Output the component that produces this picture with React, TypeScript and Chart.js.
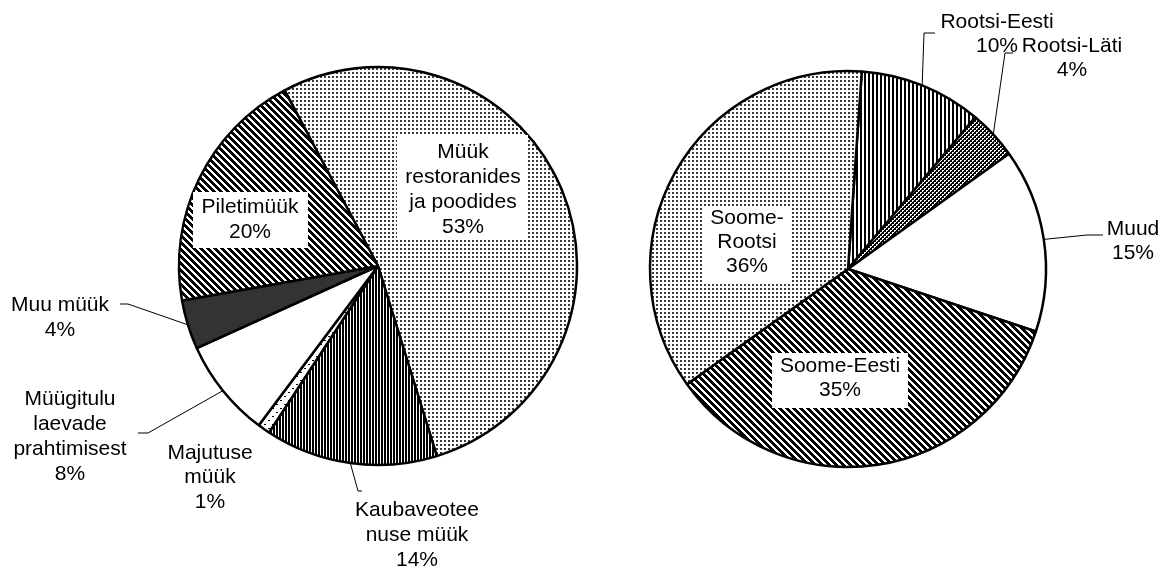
import React, { useEffect, useRef } from "react";
import { Chart, registerables } from "chart.js";

Chart.register(...registerables);

// ---------- data ----------
const leftCategories: string[][] = [
  ["Müük", "restoranides", "ja poodides"],
  ["Kaubaveotee", "nuse müük"],
  ["Majutuse", "müük"],
  ["Müügitulu", "laevade", "prahtimisest"],
  ["Muu müük"],
  ["Piletimüük"],
];
const leftValues = [53, 14, 1, 8, 4, 20];

const rightCategories: string[][] = [
  ["Rootsi-Eesti"],
  ["Rootsi-Läti"],
  ["Muud"],
  ["Soome-Eesti"],
  ["Soome-", "Rootsi"],
];
const rightValues = [10, 4, 15, 35, 36];

// ---------- layout (page coordinates) ----------
type LabelLayout = {
  x: number;
  y: number;
  lh: number;
  box?: [number, number, number, number];
  leader?: [number, number][];
};

const leftLayout: LabelLayout[] = [
  { x: 463, y: 152, lh: 25, box: [397, 135, 528, 240] },
  { x: 417, y: 510, lh: 25, leader: [[362, 491], [358, 491]] },
  { x: 210, y: 453, lh: 24.5 },
  { x: 70, y: 399, lh: 25, leader: [[138, 433], [148, 433]] },
  { x: 60, y: 305, lh: 25.5, leader: [[120, 304], [128, 304]] },
  { x: 250, y: 207.5, lh: 25, box: [193, 192, 308, 248] },
];

const rightLayout: LabelLayout[] = [
  { x: 997, y: 22, lh: 24, leader: [[935, 33], [924, 33]] },
  { x: 1072, y: 46.5, lh: 24, leader: [[1013, 53], [1005, 53]] },
  { x: 1133, y: 229, lh: 24, leader: [[1103, 235], [1087, 235]] },
  { x: 840, y: 366, lh: 24, box: [772, 353, 908, 408] },
  { x: 747, y: 218, lh: 24, box: [702, 207, 792, 282] },
];

const FONT = '21px "Liberation Sans", Arial, Helvetica, sans-serif';

// ---------- patterns ----------
function tile(w: number, h: number, draw: (g: CanvasRenderingContext2D) => void) {
  const c = document.createElement("canvas");
  c.width = w;
  c.height = h;
  const g = c.getContext("2d")!;
  g.fillStyle = "#fff";
  g.fillRect(0, 0, w, h);
  draw(g);
  return c;
}

function makePatterns(ctx: CanvasRenderingContext2D) {
  const p = (c: HTMLCanvasElement) => ctx.createPattern(c, "repeat")!;
  const dots = p(
    tile(4, 4, (g) => {
      g.fillStyle = "#3a3a3a";
      g.fillRect(0, 0, 2, 2);
    })
  );
  const vDense = p(
    tile(3, 1, (g) => {
      g.fillStyle = "#000";
      g.fillRect(0, 0, 2, 1);
    })
  );
  const vLight = p(
    tile(4, 1, (g) => {
      g.fillStyle = "#000";
      g.fillRect(0, 0, 2, 1);
    })
  );
  const diag = p(
    tile(7, 7, (g) => {
      g.fillStyle = "#000";
      for (let y = 0; y < 7; y++)
        for (let x = 0; x < 7; x++) if ((((x - y) % 7) + 7) % 7 < 4) g.fillRect(x, y, 1, 1);
    })
  );
  const check = p(
    tile(4, 4, (g) => {
      g.fillStyle = "#000";
      g.fillRect(0, 0, 4, 4);
      g.fillStyle = "#fff";
      g.fillRect(0, 0, 2, 1);
      g.fillRect(0, 1, 1, 1);
      g.fillRect(2, 2, 2, 1);
      g.fillRect(2, 3, 1, 1);
    })
  );
  const sparse = p(
    tile(8, 8, (g) => {
      g.fillStyle = "#000";
      g.fillRect(0, 0, 2, 1);
      g.fillRect(4, 4, 2, 1);
    })
  );
  return { dots, vDense, vLight, diag, check, sparse };
}

// ---------- label plugin ----------
function labelPlugin(categories: string[][], values: number[], layout: LabelLayout[], offsetX: number) {
  return {
    id: "sliceLabels" + offsetX,
    afterDraw(chart: any) {
      const ctx: CanvasRenderingContext2D = chart.ctx;
      const arcs = chart.getDatasetMeta(0).data;
      ctx.save();
      ctx.font = FONT;
      ctx.textAlign = "center";
      ctx.textBaseline = "middle";
      layout.forEach((L, i) => {
        const lines = [...categories[i], `${values[i]}%`];
        if (L.leader) {
          const a = arcs[i];
          const mid = (a.startAngle + a.endAngle) / 2;
          const ex = a.x + a.outerRadius * Math.cos(mid);
          const ey = a.y + a.outerRadius * Math.sin(mid);
          ctx.beginPath();
          ctx.strokeStyle = "#000";
          ctx.lineWidth = 1;
          L.leader.forEach(([px, py], k) => {
            if (k === 0) ctx.moveTo(px - offsetX, py);
            else ctx.lineTo(px - offsetX, py);
          });
          ctx.lineTo(ex, ey);
          ctx.stroke();
        }
        if (L.box) {
          const [x0, y0, x1, y1] = L.box;
          ctx.fillStyle = "#fff";
          ctx.fillRect(x0 - offsetX, y0, x1 - x0, y1 - y0);
        }
        ctx.fillStyle = "#000";
        lines.forEach((t, k) => ctx.fillText(t, L.x - offsetX, L.y + k * L.lh));
      });
      ctx.restore();
    },
  };
}

function PieCanvas(props: {
  categories: string[][];
  values: number[];
  layout: LabelLayout[];
  offsetX: number;
  width: number;
  rotation: number;
  radius: number;
  padding: { left: number; right: number; top: number; bottom: number };
  fills: (p: ReturnType<typeof makePatterns>) => (CanvasPattern | string)[];
}) {
  const ref = useRef<HTMLCanvasElement>(null);
  useEffect(() => {
    const canvas = ref.current!;
    const ctx = canvas.getContext("2d")!;
    const pats = makePatterns(ctx);
    const chart = new Chart(ctx, {
      type: "pie",
      data: {
        labels: props.categories.map((c) => c.join(" ")),
        datasets: [
          {
            data: props.values,
            backgroundColor: props.fills(pats) as any,
            borderColor: "#000",
            borderWidth: 2.5,
            radius: props.radius,
          } as any,
        ],
      },
      options: {
        responsive: false,
        animation: false,
        rotation: props.rotation,
        events: [],
        layout: { padding: props.padding },
        plugins: { legend: { display: false }, tooltip: { enabled: false } },
      } as any,
      plugins: [labelPlugin(props.categories, props.values, props.layout, props.offsetX)],
    });
    return () => chart.destroy();
  }, []);
  return (
    <canvas
      ref={ref}
      width={props.width}
      height={566}
      style={{ position: "absolute", left: props.offsetX, top: 0, width: props.width, height: 566 }}
    />
  );
}

export default function App() {
  return (
    <div
      style={{
        position: "absolute",
        left: 0,
        top: 0,
        width: 1160,
        height: 566,
        background: "#fff",
        overflow: "hidden",
      }}
    >
      <PieCanvas
        categories={leftCategories}
        values={leftValues}
        layout={leftLayout}
        offsetX={0}
        width={580}
        rotation={-28}
        radius={199}
        padding={{ left: 178, right: 2, top: 66, bottom: 100 }}
        fills={(p) => [p.dots, p.vDense, p.sparse, "#ffffff", "#333333", p.diag]}
      />
      <PieCanvas
        categories={rightCategories}
        values={rightValues}
        layout={rightLayout}
        offsetX={580}
        width={580}
        rotation={4}
        radius={198}
        padding={{ left: 68, right: 112, top: 69, bottom: 97 }}
        fills={(p) => [p.vLight, p.check, "#ffffff", p.diag, p.dots]}
      />
    </div>
  );
}
